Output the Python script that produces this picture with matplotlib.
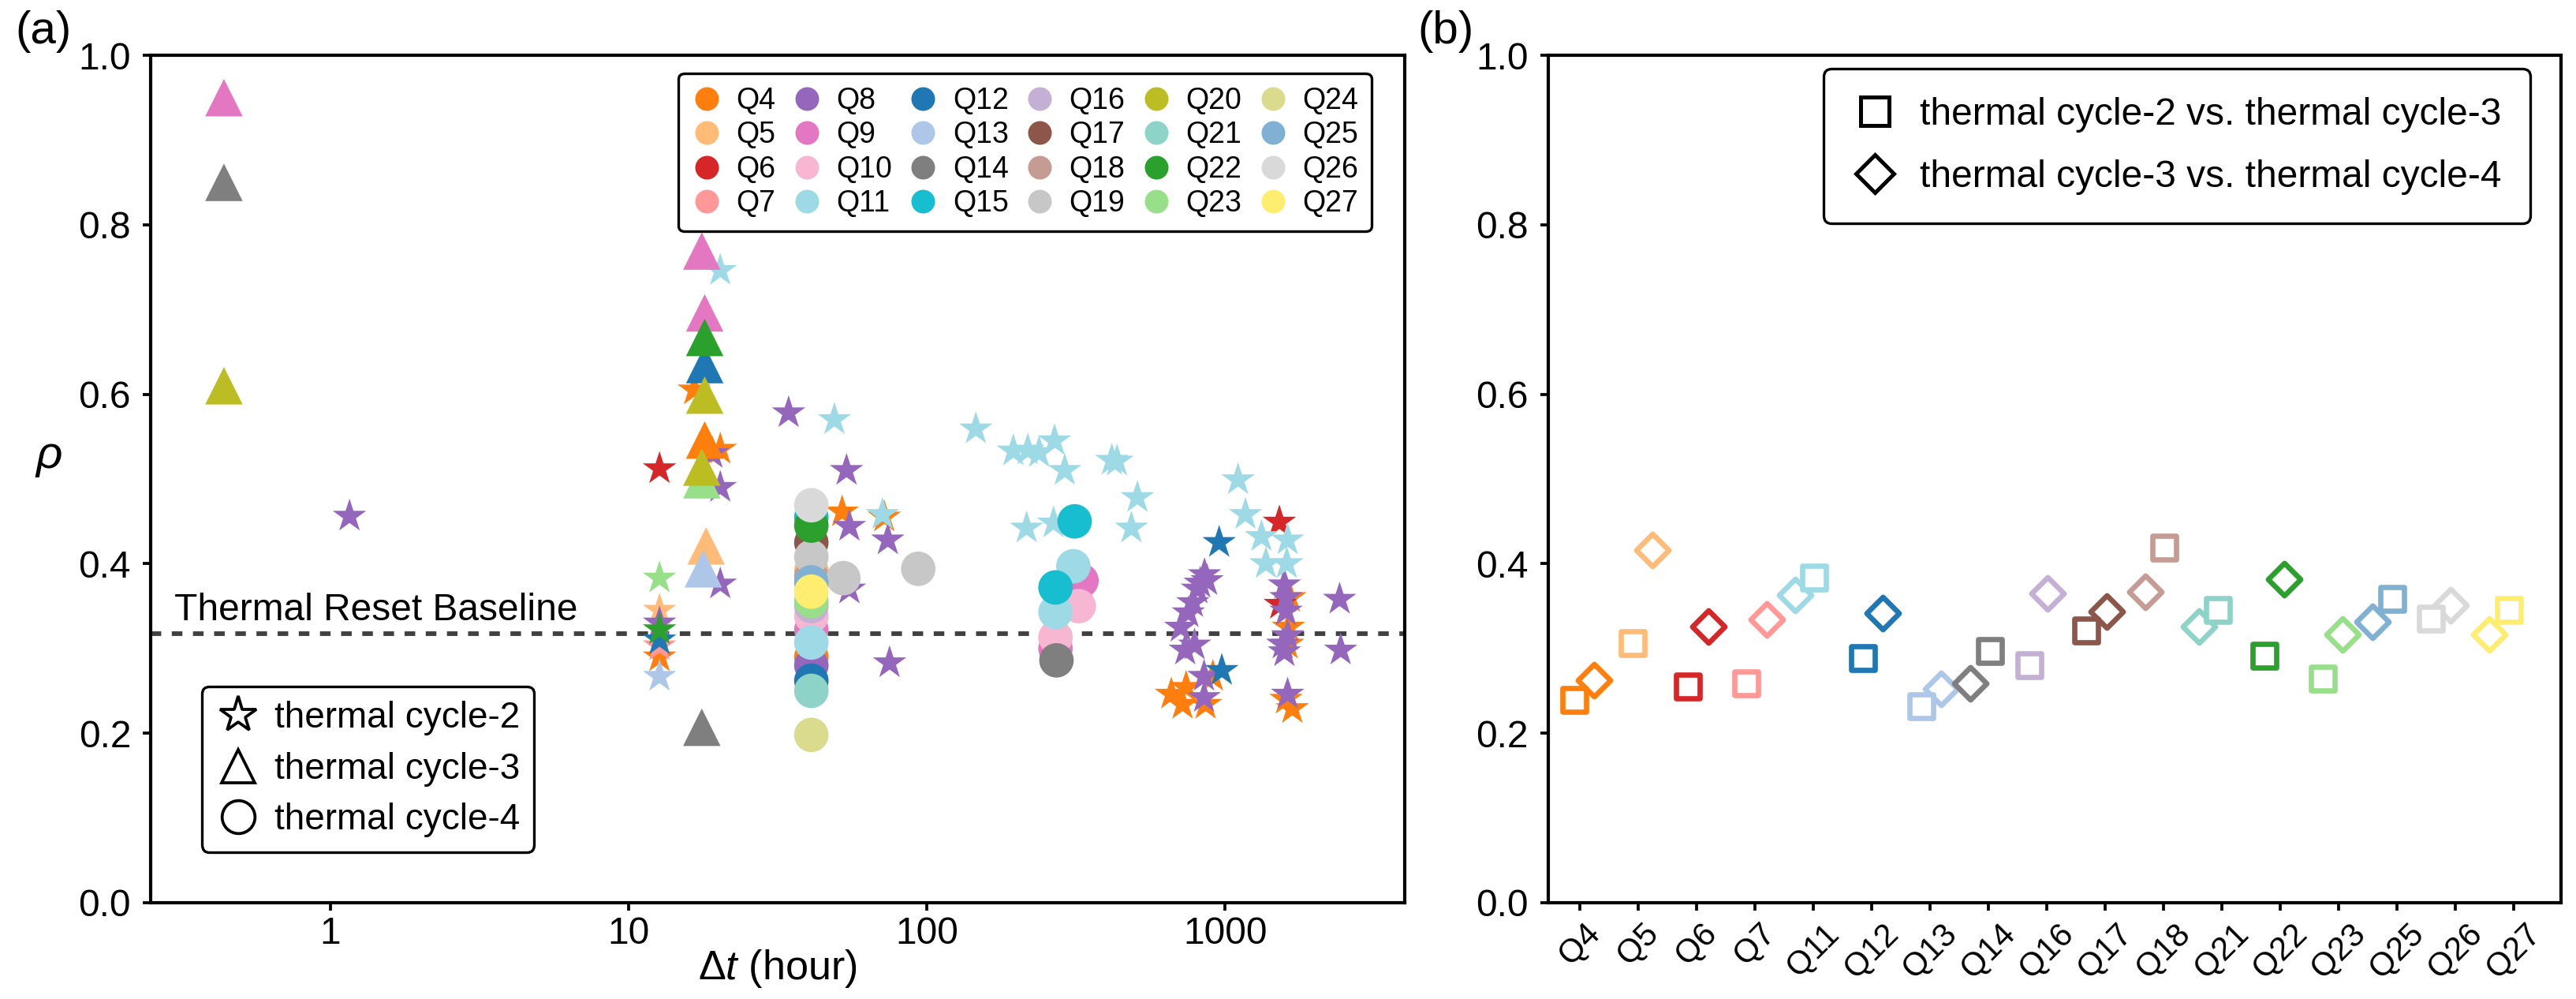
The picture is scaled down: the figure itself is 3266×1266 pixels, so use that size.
import matplotlib
matplotlib.use('Agg')
import matplotlib.pyplot as plt
from matplotlib.lines import Line2D

plt.rcParams['font.family'] = ['Liberation Sans', 'DejaVu Sans']
plt.rcParams['mathtext.fontset'] = 'custom'
plt.rcParams['mathtext.rm'] = 'Liberation Sans'
plt.rcParams['mathtext.it'] = 'Liberation Sans:italic'

# qubit labels and their colours
qubits = ['Q4', 'Q5', 'Q6', 'Q7', 'Q8', 'Q9', 'Q10', 'Q11', 'Q12', 'Q13', 'Q14', 'Q15',
          'Q16', 'Q17', 'Q18', 'Q19', 'Q20', 'Q21', 'Q22', 'Q23', 'Q24', 'Q25', 'Q26', 'Q27']
qcolors = ['#ff7f0e', '#ffbb78', '#d62728', '#ff9896', '#9467bd', '#e377c2', '#f7b6d2', '#9edae5',
           '#1f77b4', '#aec7e8', '#7f7f7f', '#17becf', '#c5b0d5', '#8c564b', '#c49c94', '#c7c7c7',
           '#bcbd22', '#8dd3c7', '#2ca02c', '#98df8a', '#dbdb8d', '#80b1d3', '#d9d9d9', '#ffed6f']
cmap = dict(zip(qubits, qcolors))

# (a) thermal cycle-2 (stars)
c2_q = (['Q4'] * 15 + ['Q5'] + ['Q6'] * 3 + ['Q7'] + ['Q8'] * 31 + ['Q11'] * 21
        + ['Q12'] * 3 + ['Q13', 'Q22', 'Q23'])
c2_dt = [16.6, 20.3, 12.7, 52, 72, 660, 720, 740, 860, 910, 1600, 1630, 1650, 1680, 1620,
         12.7,
         12.7, 1520, 1530,
         12.7,
         12.7, 1.16, 19.1, 20.3, 20.3, 34.4, 53.8, 55, 55, 74, 75, 870, 853, 825, 808, 780, 753,
         710, 735, 790, 850, 850, 1580, 1600, 1620, 1580, 1620, 1600, 1560, 2420, 2440,
         20.3, 49, 71, 146, 195, 218, 238, 268, 290, 417, 434, 508, 485, 216, 266, 1105, 1170,
         1324, 1620, 1370, 1610,
         12.7, 955, 975,
         12.7, 12.7, 12.7]
c2_rho = [0.605, 0.535, 0.29, 0.461, 0.455, 0.246, 0.234, 0.254, 0.234, 0.267, 0.24, 0.325,
          0.36, 0.229, 0.305,
          0.345,
          0.512, 0.449, 0.352,
          0.303,
          0.33, 0.456, 0.53, 0.49, 0.376, 0.578, 0.51, 0.444, 0.37, 0.428, 0.283, 0.38, 0.387,
          0.377, 0.37, 0.354, 0.342, 0.325, 0.298, 0.304, 0.267, 0.242, 0.375, 0.344, 0.315,
          0.296, 0.246, 0.36, 0.305, 0.358, 0.298,
          0.746, 0.57, 0.458, 0.559, 0.533, 0.534, 0.531, 0.545, 0.51, 0.522, 0.521, 0.478,
          0.442, 0.442, 0.448, 0.499, 0.458, 0.432, 0.428, 0.40, 0.40,
          0.31, 0.425, 0.274,
          0.267, 0.322, 0.383]

# (a) thermal cycle-3 (triangles)
c3_q = ['Q9', 'Q14', 'Q20', 'Q4', 'Q5', 'Q9', 'Q9', 'Q12', 'Q13', 'Q14', 'Q23', 'Q20', 'Q20', 'Q22']
c3_dt = [0.44, 0.44, 0.44, 18.0, 18.2, 17.6, 18.0, 18.0, 17.8, 17.6, 17.6, 18.0, 17.6, 18.0]
c3_rho = [0.95, 0.85, 0.61, 0.546, 0.421, 0.769, 0.696, 0.635, 0.394, 0.207, 0.499, 0.599,
          0.514, 0.667]

# (a) thermal cycle-4 (circles)
c4_q = ['Q4', 'Q5', 'Q8', 'Q9', 'Q9', 'Q9', 'Q10', 'Q10', 'Q10', 'Q11', 'Q11', 'Q11', 'Q12',
        'Q14', 'Q15', 'Q15', 'Q15', 'Q16', 'Q17', 'Q18', 'Q19', 'Q19', 'Q19', 'Q21', 'Q22',
        'Q23', 'Q24', 'Q25', 'Q26', 'Q27']
c4_dt = [41, 41, 41, 41, 330, 270, 41, 323, 270, 41, 310, 270, 41,
         272, 41, 313, 270, 41, 41, 41, 41, 52.5, 93.6, 41, 41,
         41, 41, 41, 41, 41]
c4_rho = [0.29, 0.392, 0.28, 0.322, 0.38, 0.30, 0.338, 0.35, 0.313, 0.307, 0.397, 0.343, 0.262,
          0.286, 0.455, 0.45, 0.372, 0.35, 0.425, 0.385, 0.408, 0.383, 0.394, 0.25, 0.445,
          0.356, 0.198, 0.378, 0.469, 0.367]

baseline = 0.3175

# (b) correlation between successive cycles
b_q = ['Q4', 'Q5', 'Q6', 'Q7', 'Q11', 'Q12', 'Q13', 'Q14', 'Q16', 'Q17', 'Q18', 'Q21', 'Q22',
       'Q23', 'Q25', 'Q26', 'Q27']
rho_23 = [0.239, 0.306, 0.255, 0.259, 0.384, 0.289, 0.232, 0.297, 0.280, 0.321, 0.419, 0.345,
          0.291, 0.264, 0.358, 0.335, 0.345]
rho_34 = [0.263, 0.416, 0.326, 0.334, 0.363, 0.342, 0.252, 0.259, 0.365, 0.344, 0.367, 0.326,
          0.382, 0.317, 0.331, 0.351, 0.317]
shift_23 = [-0.09, -0.09, -0.14, -0.14, 0.01, -0.15, -0.15, 0.03, -0.30, -0.32, 0.01, -0.07,
            -0.27, -0.27, -0.08, -0.42, -0.08]
shift_34 = [0.24, 0.24, 0.20, 0.20, -0.31, 0.19, 0.19, -0.31, 0.01, 0.03, -0.31, -0.39,
            0.07, 0.07, -0.42, -0.08, -0.42]

fig = plt.figure(figsize=(3266 / 300, 1266 / 300), dpi=300)
ax1 = fig.add_axes([0.0585, 0.0964, 0.4868, 0.8483])
ax2 = fig.add_axes([0.6010, 0.0964, 0.3931, 0.8483])

ax1.scatter(c2_dt, c2_rho, s=115, marker='*', c=[cmap[q] for q in c2_q], linewidths=0, zorder=3)
ax1.scatter(c3_dt, c3_rho, s=130, marker='^', c=[cmap[q] for q in c3_q], linewidths=0, zorder=3)
ax1.scatter(c4_dt, c4_rho, s=110, marker='o', c=[cmap[q] for q in c4_q], linewidths=0, zorder=3)

ax1.axhline(baseline, color='#404040', lw=1.4, ls=(0, (2.3, 2.3)), zorder=2)
ax1.text(0.30, baseline + 0.016, 'Thermal Reset Baseline', fontsize=11.5, va='baseline')

ax1.set_xscale('log')
ax1.set_xlim(0.25, 4000)
ax1.set_ylim(0, 1)
ax1.set_xticks([1, 10, 100, 1000])
ax1.set_xticklabels(['1', '10', '100', '1000'])
ax1.minorticks_off()
ax1.set_yticks([0, 0.2, 0.4, 0.6, 0.8, 1.0])
ax1.set_xlabel(r'$\Delta\mathit{t}$ (hour)', fontsize=12.5, labelpad=-1)
ax1.set_ylabel(r'$\rho$', fontsize=14, rotation=0, labelpad=9)

qh = [Line2D([], [], ls='', marker='o', ms=7.2, mfc=c, mec='none') for c in qcolors]
leg1 = ax1.legend(qh, qubits, ncol=6, fontsize=9, loc='upper right',
                  bbox_to_anchor=(0.9736, 0.9786), borderaxespad=0, handlelength=1.0,
                  handletextpad=0.5, columnspacing=0.55, labelspacing=0.2, borderpad=0.45,
                  edgecolor='black', framealpha=1)
leg1.get_frame().set_linewidth(0.8)
ax1.add_artist(leg1)

ch = [Line2D([], [], ls='', marker='*', ms=11.5, mfc='none', mec='black', mew=0.9),
      Line2D([], [], ls='', marker='^', ms=10, mfc='none', mec='black', mew=0.9),
      Line2D([], [], ls='', marker='o', ms=10, mfc='none', mec='black', mew=0.9)]
leg2 = ax1.legend(ch, ['thermal cycle-2', 'thermal cycle-3', 'thermal cycle-4'], fontsize=11,
                  loc='lower left', bbox_to_anchor=(0.041, 0.06), borderaxespad=0,
                  handlelength=1.2, handletextpad=0.4, labelspacing=0.45, edgecolor='black',
                  framealpha=1)
leg2.get_frame().set_linewidth(0.8)

# panel (b)
for i, q in enumerate(b_q):
    ax2.scatter(i + shift_34[i], rho_34[i], s=49, marker='D', facecolors='white',
                edgecolors=cmap[q], linewidths=1.6, zorder=3)
    ax2.scatter(i + shift_23[i], rho_23[i], s=49, marker='s', facecolors='white',
                edgecolors=cmap[q], linewidths=1.6, zorder=3)

ax2.set_xlim(-0.54, 16.81)
ax2.set_ylim(0, 1)
ax2.set_xticks(range(len(b_q)))
ax2.set_xticklabels(b_q, rotation=45)
ax2.set_yticks([0, 0.2, 0.4, 0.6, 0.8, 1.0])

bh = [Line2D([], [], ls='', marker='s', ms=8.5, mfc='none', mec='black', mew=1.2),
      Line2D([], [], ls='', marker='D', ms=8, mfc='none', mec='black', mew=1.2)]
leg3 = ax2.legend(bh, ['thermal cycle-2 vs. thermal cycle-3', 'thermal cycle-3 vs. thermal cycle-4'],
                  fontsize=11.5, loc='upper right', bbox_to_anchor=(0.9696, 0.984),
                  borderaxespad=0, handlelength=1.2, handletextpad=0.6, borderpad=0.75,
                  labelspacing=0.7, edgecolor='black', framealpha=1)
leg3.get_frame().set_linewidth(0.8)

for ax in (ax1, ax2):
    for sp in ax.spines.values():
        sp.set_linewidth(1.0)
    ax.tick_params(direction='out', length=2.5, width=0.9, labelsize=11.5, pad=3.5)
ax1.tick_params(axis='x', pad=1.5)
ax2.tick_params(axis='x', labelsize=10, pad=2)

fig.text(0.006, 0.99, '(a)', fontsize=14, va='top', ha='left')
fig.text(0.5502, 0.99, '(b)', fontsize=14, va='top', ha='left')

fig.savefig('out.png', dpi=300)
